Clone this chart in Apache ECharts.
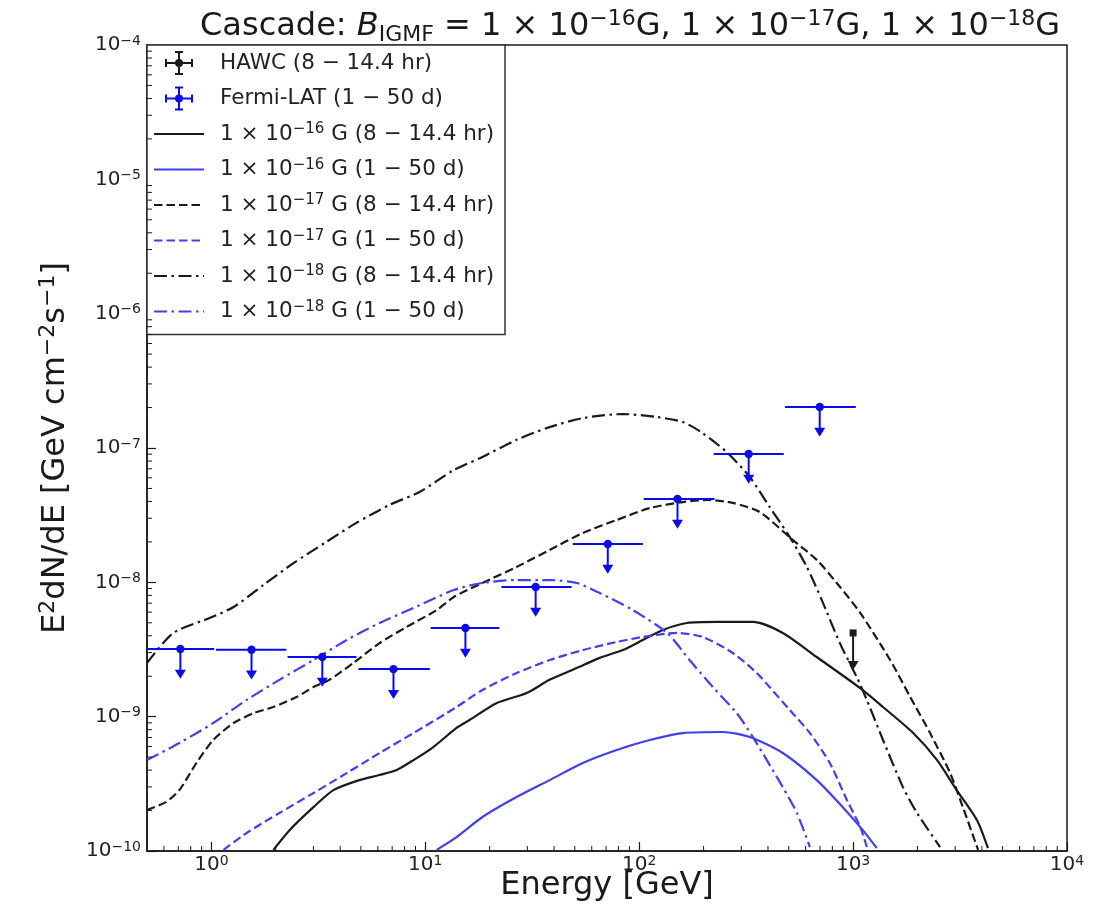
<!DOCTYPE html>
<html>
<head>
<meta charset="utf-8">
<script src="https://cdn.jsdelivr.net/npm/echarts@6/dist/echarts.min.js"></script>
<style>
  html, body { margin: 0; padding: 0; background: #ffffff; }
  #chart { width: 1112px; height: 920px; }
</style>
</head>
<body>
<div id="chart"></div>
<script>
// ---- Fermi-LAT upper limits (1 - 50 d) ----
const fermiE   = [0.716, 1.54, 3.30, 7.10, 15.4, 32.8, 71.3, 151, 325, 698];
const fermiElo = [0.49, 1.05, 2.27, 4.87, 10.6, 22.7, 48.9, 105, 223, 480];
const fermiEhi = [1.03, 2.24, 4.77, 10.5, 22.2, 48.3, 104, 225, 474, 1030];
const fermiUL  = [3.19e-9, 3.15e-9, 2.78e-9, 2.26e-9, 4.57e-9, 9.23e-9, 1.93e-8, 4.17e-8, 9.02e-8, 2.02e-7];
const fermiArrowFactor = 0.6;   // arrow tip = UL * factor

// ---- HAWC upper limit (8 - 14.4 hr) ----
const hawcE = [1000];
const hawcUL = [4.2e-9];
const hawcArrowFactor = 0.53;

// ---- Cascade spectra, B = 1e-16 G ----
const b16HrE = [1.95, 2.32, 3.00, 3.72, 4.92, 6.11, 7.35, 8.81, 10.9, 14.0, 16.1, 21.5, 29.8, 38.1, 51.0, 65.3, 83.8, 104, 129, 167, 231, 340, 469, 676, 1080, 1380, 1910, 2470, 3050, 3790, 4270];
const b16HrF = [1.02e-10, 1.43e-10, 2.12e-10, 2.84e-10, 3.37e-10, 3.68e-10, 4.01e-10, 4.75e-10, 5.94e-10, 8.24e-10, 9.44e-10, 1.26e-9, 1.50e-9, 1.88e-9, 2.30e-9, 2.74e-9, 3.13e-9, 3.72e-9, 4.42e-9, 4.98e-9, 5.07e-9, 5.07e-9, 4.20e-9, 2.78e-9, 1.63e-9, 1.18e-9, 7.55e-10, 4.75e-10, 2.84e-10, 1.70e-10, 1.05e-10];
const b16DayE = [11.3, 14.0, 18.5, 26.7, 38.1, 54.5, 78.5, 112, 160, 246, 329, 469, 676, 895, 1110, 1290];
const b16DayF = [1.02e-10, 1.27e-10, 1.79e-10, 2.52e-10, 3.37e-10, 4.52e-10, 5.65e-10, 6.70e-10, 7.55e-10, 7.69e-10, 7.05e-10, 5.36e-10, 3.37e-10, 2.12e-10, 1.43e-10, 1.05e-10];

// ---- Cascade spectra, B = 1e-17 G ----
const b17HrE = [0.5, 0.615, 0.708, 0.851, 1.02, 1.27, 1.57, 1.95, 2.50, 3.00, 3.56, 4.61, 6.11, 8.17, 11.3, 13.6, 18.5, 26.7, 38.1, 54.5, 78.5, 112, 160, 214, 274, 366, 522, 676, 839, 1080, 1490, 1850, 2290, 2840, 3260, 3840];
const b17HrF = [2.02e-10, 2.32e-10, 2.84e-10, 4.52e-10, 6.70e-10, 8.97e-10, 1.06e-9, 1.18e-9, 1.40e-9, 1.66e-9, 1.88e-9, 2.51e-9, 3.53e-9, 4.65e-9, 6.22e-9, 7.78e-9, 9.89e-9, 1.30e-8, 1.74e-8, 2.33e-8, 2.91e-8, 3.57e-8, 3.96e-8, 4.10e-8, 3.90e-8, 3.33e-8, 2.07e-8, 1.47e-8, 9.89e-9, 5.92e-9, 2.64e-9, 1.40e-9, 7.55e-10, 3.81e-10, 2.12e-10, 1.02e-10];
const b17DayE = [1.14, 1.46, 2.08, 3.00, 4.29, 6.11, 8.81, 14.0, 18.5, 26.7, 38.1, 54.5, 78.5, 104, 150, 198, 274, 355, 407, 506, 628, 778, 935, 1080, 1160];
const b17DayF = [1.02e-10, 1.36e-10, 1.92e-10, 2.70e-10, 3.80e-10, 5.36e-10, 7.55e-10, 1.18e-9, 1.58e-9, 2.11e-9, 2.64e-9, 3.13e-9, 3.60e-9, 3.92e-9, 4.20e-9, 3.92e-9, 2.98e-9, 2.11e-9, 1.66e-9, 1.12e-9, 7.55e-10, 4.52e-10, 2.40e-10, 1.51e-10, 1.07e-10];

// ---- Cascade spectra, B = 1e-18 G ----
const b18HrE = [0.5, 0.664, 0.98, 1.27, 1.75, 2.42, 3.45, 4.76, 6.81, 9.4, 13.6, 18.5, 26.7, 38.1, 54.5, 83.8, 121, 160, 198, 256, 329, 407, 506, 608, 714, 867, 1040, 1160, 1380, 1710, 1990, 2550];
const b18HrF = [2.51e-9, 4.20e-9, 5.42e-9, 6.55e-9, 9.55e-9, 1.39e-8, 2.00e-8, 2.77e-8, 3.77e-8, 4.70e-8, 6.85e-8, 8.57e-8, 1.15e-7, 1.43e-7, 1.67e-7, 1.79e-7, 1.70e-7, 1.56e-7, 1.29e-7, 9.33e-8, 6.08e-8, 3.64e-8, 2.17e-8, 1.30e-8, 7.38e-9, 3.53e-9, 1.97e-9, 1.33e-9, 6.70e-10, 2.99e-10, 1.92e-10, 1.07e-10];
const b18DayE = [0.5, 0.708, 1.02, 1.46, 2.08, 3.00, 4.29, 6.11, 8.81, 13.6, 18.5, 26.7, 38.1, 51.0, 65.3, 93.3, 135, 172, 221, 286, 340, 395, 469, 546, 628];
const b18DayF = [4.75e-10, 6.37e-10, 8.97e-10, 1.33e-9, 1.88e-9, 2.64e-9, 3.72e-9, 4.98e-9, 6.44e-9, 8.77e-9, 9.89e-9, 1.04e-8, 1.04e-8, 9.89e-9, 8.34e-9, 6.22e-9, 4.20e-9, 2.64e-9, 1.66e-9, 1.06e-9, 7.05e-10, 4.75e-10, 2.99e-10, 1.92e-10, 1.07e-10];

// ---- legend labels ----
const labelHawc  = 'HAWC (8 − 14.4 hr)';
const labelFermi = 'Fermi-LAT (1 − 50 d)';
const label16Hr  = '1 × 10^−16 G (8 − 14.4 hr)';
const label16Day = '1 × 10^−16 G (1 − 50 d)';
const label17Hr  = '1 × 10^−17 G (8 − 14.4 hr)';
const label17Day = '1 × 10^−17 G (1 − 50 d)';
const label18Hr  = '1 × 10^−18 G (8 − 14.4 hr)';
const label18Day = '1 × 10^−18 G (1 − 50 d)';

// ---- axis ranges ----
const xMin = 0.5, xMax = 1e4;
const yMin = 1e-10, yMax = 1e-4;

const FONT = "'DejaVu Sans', 'Noto Sans', sans-serif";
const INK = '#1a1a1a';
const POINT_BLUE = '#0a0aee';
const LINE_BLUE = '#4040ee';

// minor ticks at 2..9 x 10^k
const xMinorTicks = [];
for (let k = -1; k < 4; k++) for (let m = 2; m < 10; m++) {
  const v = m * Math.pow(10, k);
  if (v > xMin && v < xMax) xMinorTicks.push(v);
}
const yMinorTicks = [];
for (let k = -10; k < -4; k++) for (let m = 2; m < 10; m++) {
  yMinorTicks.push(m * Math.pow(10, k));
}

const zip = (xs, ys) => xs.map((x, i) => [x, ys[i]]);

function powLabel(v) {
  const e = Math.log10(v);
  const r = Math.round(e);
  if (Math.abs(e - r) > 1e-6) return '';
  return '10{sup|' + (r < 0 ? '−' + (-r) : r) + '}';
}

const errIcon = 'path://M0 11H28V13H0Z M0 8H2V16H0Z M26 8H28V16H26Z M13 0H15V24H13Z M10 0H18V2H10Z M10 22H18V24H10Z M18 12A4 4 0 1 1 10 12A4 4 0 1 1 18 12Z';

function lineSeries(name, xs, ys, color, dash) {
  return {
    name: name, type: 'line', symbol: 'none', showSymbol: false,
    data: zip(xs, ys), clip: true, smooth: 0.25, z: 3,
    lineStyle: { color: color, width: 2.2, type: dash, cap: 'butt' },
    itemStyle: { color: color },
    emphasis: { disabled: true }
  };
}

// legend entry for a curve: line handle only, no marker
const lineLegend = name => ({ name: name, itemStyle: { opacity: 0 } });

const DASHED = [8.5, 4];
const DASHDOT = [13, 4.5, 2.5, 4.5];

const chart = echarts.init(document.getElementById('chart'), null, { renderer: 'canvas' });

chart.setOption({
  animation: false,
  backgroundColor: '#ffffff',
  title: {
    text: 'Cascade: {i|B}{sub|IGMF} = 1 × 10{sup|−16}G, 1 × 10{sup|−17}G, 1 × 10{sup|−18}G',
    left: 195, top: 3,
    textStyle: {
      fontFamily: FONT, fontSize: 32, fontWeight: 'normal', color: INK, lineHeight: 38,
      rich: {
        i: { fontFamily: FONT, fontSize: 32, fontStyle: 'italic', color: INK, lineHeight: 38 },
        sub: { fontFamily: FONT, fontSize: 22, color: INK, lineHeight: 22, verticalAlign: 'bottom' },
        sup: { fontFamily: FONT, fontSize: 22, color: INK, lineHeight: 22, verticalAlign: 'top' }
      }
    }
  },
  grid: {
    left: 147, right: 45, top: 45, bottom: 69,
    show: true, borderColor: INK, borderWidth: 1.5, backgroundColor: 'transparent',
    outerBoundsMode: 'none'
  },
  legend: {
    orient: 'vertical', left: 147, top: 45,
    padding: [6, 11, 11, 6],
    itemWidth: 50, itemHeight: 24, itemGap: 11.5,
    backgroundColor: '#ffffff', borderColor: '#333333', borderWidth: 1.5, borderRadius: 0,
    selectedMode: false,
    data: [
      { name: labelHawc, icon: errIcon },
      { name: labelFermi, icon: errIcon },
      lineLegend(label16Hr),
      lineLegend(label16Day),
      lineLegend(label17Hr),
      lineLegend(label17Day),
      lineLegend(label18Hr),
      lineLegend(label18Day)
    ],
    formatter: function (name) {
      return '{g| }' + name.replace(/\^([−\d]+)/g, '{sup|$1}');
    },
    textStyle: {
      fontFamily: FONT, fontSize: 21.5, color: '#222222', lineHeight: 24,
      rich: {
        g: { width: 11 },
        sup: { fontFamily: FONT, fontSize: 15, color: '#222222', lineHeight: 14, verticalAlign: 'top' }
      }
    }
  },
  xAxis: {
    type: 'log', logBase: 10, min: xMin, max: xMax,
    name: 'Energy [GeV]', nameLocation: 'middle', nameGap: 19, nameMoveOverlap: false,
    nameTextStyle: { fontFamily: FONT, fontSize: 32, color: INK },
    splitLine: { show: false },
    axisLine: { lineStyle: { color: INK, width: 1.5 } },
    axisTick: { inside: true, length: 9, lineStyle: { color: INK, width: 1.2 } },
    axisLabel: {
      formatter: powLabel, showMinLabel: false, showMaxLabel: true, margin: 3,
      fontFamily: FONT, fontSize: 20, color: '#222222', lineHeight: 22,
      rich: { sup: { fontFamily: FONT, fontSize: 14, color: '#222222', lineHeight: 14, verticalAlign: 'top' } }
    }
  },
  yAxis: {
    type: 'log', logBase: 10, min: yMin, max: yMax,
    name: 'E{sup|2}dN/dE [GeV cm{sup|−2}s{sup|−1}]', nameLocation: 'middle', nameGap: 71,
    nameTextStyle: {
      fontFamily: FONT, fontSize: 32, color: INK, lineHeight: 38,
      rich: { sup: { fontFamily: FONT, fontSize: 22, color: INK, lineHeight: 22, verticalAlign: 'top' } }
    },
    splitLine: { show: false },
    axisLine: { lineStyle: { color: INK, width: 1.5 } },
    axisTick: { inside: true, length: 9, lineStyle: { color: INK, width: 1.2 } },
    axisLabel: {
      formatter: powLabel, showMinLabel: true, showMaxLabel: true, margin: 6,
      fontFamily: FONT, fontSize: 20, color: '#222222', lineHeight: 22,
      rich: { sup: { fontFamily: FONT, fontSize: 14, color: '#222222', lineHeight: 14, verticalAlign: 'top' } }
    }
  },
  series: [
    // HAWC upper limit
    {
      name: labelHawc, type: 'custom', clip: true, z: 5,
      itemStyle: { color: INK },
      data: hawcE.map((e, i) => [e, hawcUL[i], hawcUL[i] * hawcArrowFactor]),
      encode: { x: 0, y: 1 },
      renderItem: function (params, api) {
        const c = api.coord([api.value(0), api.value(1)]);
        const t = api.coord([api.value(0), api.value(2)]);
        return {
          type: 'group', children: [
            { type: 'line', shape: { x1: c[0], y1: c[1], x2: t[0], y2: t[1] - 6 }, style: { stroke: INK, lineWidth: 2 } },
            { type: 'polygon', shape: { points: [[t[0] - 5.5, t[1] - 9], [t[0] + 5.5, t[1] - 9], [t[0], t[1]]] }, style: { fill: INK } },
            { type: 'rect', shape: { x: c[0] - 3.5, y: c[1] - 3.5, width: 7, height: 7 }, style: { fill: INK } }
          ]
        };
      }
    },
    // Fermi-LAT upper limits
    {
      name: labelFermi, type: 'custom', clip: true, z: 5,
      itemStyle: { color: POINT_BLUE },
      data: fermiE.map((e, i) => [e, fermiUL[i], fermiElo[i], fermiEhi[i], fermiUL[i] * fermiArrowFactor]),
      encode: { x: 0, y: 1 },
      renderItem: function (params, api) {
        const c = api.coord([api.value(0), api.value(1)]);
        const l = api.coord([api.value(2), api.value(1)]);
        const r = api.coord([api.value(3), api.value(1)]);
        const t = api.coord([api.value(0), api.value(4)]);
        return {
          type: 'group', children: [
            { type: 'line', shape: { x1: l[0], y1: c[1], x2: r[0], y2: c[1] }, style: { stroke: POINT_BLUE, lineWidth: 2 } },
            { type: 'line', shape: { x1: c[0], y1: c[1], x2: t[0], y2: t[1] - 6 }, style: { stroke: POINT_BLUE, lineWidth: 2 } },
            { type: 'polygon', shape: { points: [[t[0] - 5.5, t[1] - 9], [t[0] + 5.5, t[1] - 9], [t[0], t[1]]] }, style: { fill: POINT_BLUE } },
            { type: 'circle', shape: { cx: c[0], cy: c[1], r: 4.2 }, style: { fill: POINT_BLUE } }
          ]
        };
      }
    },
    lineSeries(label16Hr, b16HrE, b16HrF, INK, 'solid'),
    lineSeries(label16Day, b16DayE, b16DayF, LINE_BLUE, 'solid'),
    lineSeries(label17Hr, b17HrE, b17HrF, INK, DASHED),
    lineSeries(label17Day, b17DayE, b17DayF, LINE_BLUE, DASHED),
    lineSeries(label18Hr, b18HrE, b18HrF, INK, DASHDOT),
    lineSeries(label18Day, b18DayE, b18DayF, LINE_BLUE, DASHDOT),
    // minor ticks, bottom axis
    {
      type: 'custom', silent: true, clip: false, z: 6,
      data: xMinorTicks.map(v => [v, yMin]),
      encode: { x: 0, y: 1 },
      renderItem: function (params, api) {
        const p = api.coord([api.value(0), api.value(1)]);
        return { type: 'line', shape: { x1: p[0], y1: p[1], x2: p[0], y2: p[1] - 5 }, style: { stroke: INK, lineWidth: 1 } };
      }
    },
    // minor ticks, left axis
    {
      type: 'custom', silent: true, clip: false, z: 6,
      data: yMinorTicks.map(v => [xMin, v]),
      encode: { x: 0, y: 1 },
      renderItem: function (params, api) {
        const p = api.coord([api.value(0), api.value(1)]);
        return { type: 'line', shape: { x1: p[0], y1: p[1], x2: p[0] + 5, y2: p[1] }, style: { stroke: INK, lineWidth: 1 } };
      }
    }
  ]
});
</script>
</body>
</html>
